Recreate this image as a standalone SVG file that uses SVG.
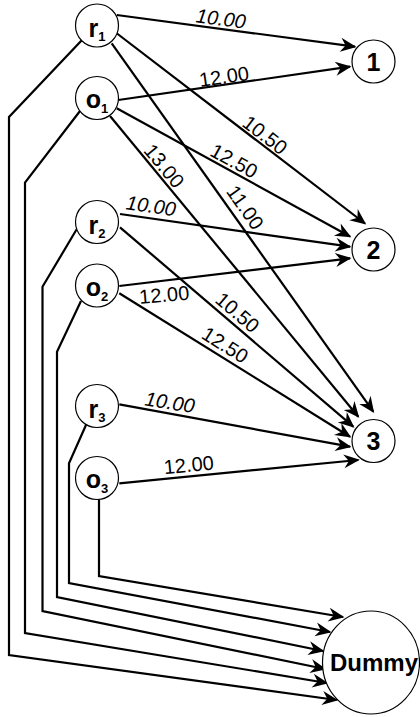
<svg xmlns="http://www.w3.org/2000/svg" width="420" height="717" viewBox="0 0 420 717">
  <style>
    .node { fill: #fff; stroke: #000; stroke-width: 1.2; }
    .lbl { font-family: "Liberation Sans", Arial, sans-serif; font-weight: bold; font-size: 25px; fill: #000; }
    .sub { font-size: 13px; }
    .big { font-size: 24px; }
    .edge { fill: none; stroke: #000; stroke-width: 2.2; marker-end: url(#arrow); }
    .cost { font-family: "Liberation Sans", Arial, sans-serif; font-size: 20px; fill: #000; text-anchor: middle; }
    .it { font-style: italic; }
  </style>
  <defs>
    <marker id="arrow" viewBox="-17 -8 18 16" markerWidth="18" markerHeight="16" refX="-1.5" refY="0" markerUnits="userSpaceOnUse" orient="auto">
      <path d="M0,0 L-16,-7 L-11,0 L-16,7 Z" fill="#000"/>
    </marker>
  </defs>

  <rect width="420" height="717" fill="#fff"/>

  <!-- connectors -->
  <g id="edges">
    <!-- to node 1 -->
    <path class="edge" d="M116.7,15 L355,46.7"/>
    <path class="edge" d="M118.3,100 L350,66.7"/>
    <!-- to node 2 -->
    <path class="edge" d="M117,33.5 L365,223.5"/>
    <path class="edge" d="M116.7,108.3 L350,236.5"/>
    <path class="edge" d="M120,214 L350,246.7"/>
    <path class="edge" d="M119.3,286 L350,258.3"/>
    <!-- to node 3 -->
    <path class="edge" d="M111.7,43.3 L373.3,411.7"/>
    <path class="edge" d="M110,116 L358.3,416.7"/>
    <path class="edge" d="M120,227.3 L353.3,426.7"/>
    <path class="edge" d="M119.3,293.3 L350,436.7"/>
    <path class="edge" d="M119.3,404.3 L350,446.7"/>
    <path class="edge" d="M119.3,483.3 L358.3,460"/>
    <!-- to Dummy -->
    <path class="edge" d="M82,40 L9,117 L9,655 L336.7,700"/>
    <path class="edge" d="M80,111 L25,182.7 L25,633 L327,683"/>
    <path class="edge" d="M76.7,229.3 L42.5,286.7 L42.5,611 L325,669"/>
    <path class="edge" d="M81,301 L57,351.7 L57,597 L323,651"/>
    <path class="edge" d="M86,425 L69,463.3 L69,583 L330,632"/>
    <path class="edge" d="M99,499.5 L99,576 L343,617"/>

    <!-- costs -->
    <text class="cost it" transform="translate(220,25.5) rotate(7.6)">10.00</text>
    <text class="cost" transform="translate(225,83.5) rotate(-8.2)">12.00</text>
    <text class="cost" transform="translate(260.8,140.4) rotate(37.6)">10.50</text>
    <text class="cost" transform="translate(230.7,167) rotate(28.8)">12.50</text>
    <text class="cost" transform="translate(158.8,170.3) rotate(50.4)">13.00</text>
    <text class="cost" transform="translate(239.5,211.4) rotate(54.7)">11.00</text>
    <text class="cost it" transform="translate(150,212.7) rotate(8.1)">10.00</text>
    <text class="cost" transform="translate(164.8,301.8) rotate(-5)">12.00</text>
    <text class="cost" transform="translate(233,317.7) rotate(40.5)">10.50</text>
    <text class="cost" transform="translate(221.4,350.8) rotate(32.2)">12.50</text>
    <text class="cost it" transform="translate(168.8,409.2) rotate(9)">10.00</text>
    <text class="cost" transform="translate(189.4,471.8) rotate(-5.6)">12.00</text>
  </g>

  <!-- source nodes -->
  <g id="r1"><circle class="node" cx="97" cy="25.5" r="21.5"/><text class="lbl" x="97" y="37" text-anchor="middle">r<tspan class="sub" dy="4">1</tspan></text></g>
  <g id="o1"><circle class="node" cx="97" cy="98" r="21.5"/><text class="lbl" x="97" y="108" text-anchor="middle">o<tspan class="sub" dy="5">1</tspan></text></g>
  <g id="r2"><circle class="node" cx="97" cy="222" r="21.5"/><text class="lbl" x="97" y="233.5" text-anchor="middle">r<tspan class="sub" dy="4">2</tspan></text></g>
  <g id="o2"><circle class="node" cx="97" cy="285.5" r="21.5"/><text class="lbl" x="97" y="295.5" text-anchor="middle">o<tspan class="sub" dy="5">2</tspan></text></g>
  <g id="r3"><circle class="node" cx="97" cy="406" r="21.5"/><text class="lbl" x="97" y="417.5" text-anchor="middle">r<tspan class="sub" dy="4">3</tspan></text></g>
  <g id="o3"><circle class="node" cx="97" cy="478" r="21.5"/><text class="lbl" x="97" y="488" text-anchor="middle">o<tspan class="sub" dy="5">3</tspan></text></g>

  <!-- sink nodes -->
  <g id="n1"><circle class="node" cx="373.5" cy="61.5" r="21.5"/><text class="lbl" x="373.5" y="70.5" text-anchor="middle">1</text></g>
  <g id="n2"><circle class="node" cx="373.5" cy="249.5" r="21.5"/><text class="lbl" x="373.5" y="258.5" text-anchor="middle">2</text></g>
  <g id="n3"><circle class="node" cx="373.5" cy="441" r="21.5"/><text class="lbl" x="373.5" y="450" text-anchor="middle">3</text></g>
  <g id="dummy"><ellipse class="node" cx="371" cy="662.5" rx="48.5" ry="51.5"/><text class="lbl big" x="374" y="671" text-anchor="middle">Dummy</text></g>
</svg>
